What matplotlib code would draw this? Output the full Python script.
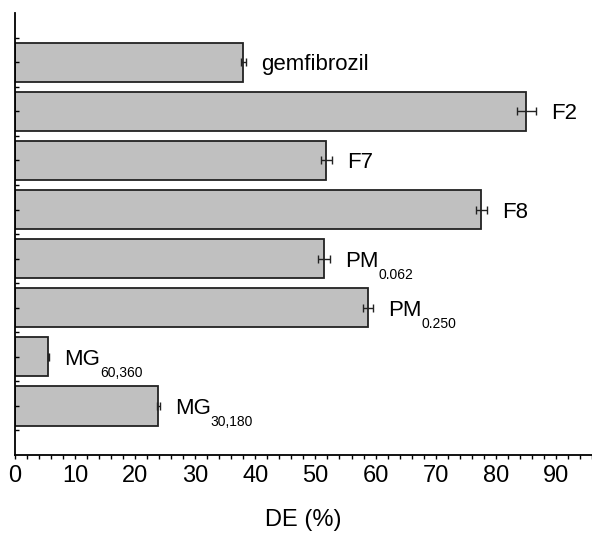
import matplotlib
matplotlib.use("Agg")
import matplotlib.pyplot as plt
import numpy as np
from matplotlib.ticker import MultipleLocator

plt.rcParams['font.family'] = ['Liberation Sans', 'DejaVu Sans']

# data
names = ['gemfibrozil', 'F2', 'F7', 'F8', 'PM', 'PM', 'MG', 'MG']
subs = ['', '', '', '', '0.062', '0.250', '60,360', '30,180']
de = [38.0, 85.1, 51.8, 77.6, 51.4, 58.7, 5.6, 23.9]
err = [0.4, 1.6, 0.9, 0.9, 1.0, 0.85, 0.1, 0.2]

fig = plt.figure(figsize=(5.92, 5.35), dpi=100)
ax = fig.add_axes([0.025, 0.1495, 0.975, 0.826])

y = np.arange(len(de))
ax.barh(y, de, height=0.8, color='#c0c0c0', edgecolor='#222222', linewidth=1.3)
ax.errorbar(de, y, xerr=err, fmt='none', ecolor='#222222', elinewidth=1,
            capsize=3, capthick=1)

for yi, v, e, name, sub in zip(y, de, err, names, subs):
    t = ax.annotate(name, (v + e, yi), xytext=(11, 0), textcoords='offset points',
                    va='center_baseline', ha='left', fontsize=16)
    if sub:
        # subscript drawn as its own smaller text, just below the baseline
        ax.annotate(sub, xy=(1, 0), xycoords=t, xytext=(0, 2.5),
                    textcoords='offset points', va='top', ha='left', fontsize=10)

ax.set_xlim(0, 96)
ax.set_ylim(len(de), -1)
ax.xaxis.set_major_locator(MultipleLocator(10))
ax.xaxis.set_minor_locator(MultipleLocator(2))
ax.set_xticks(np.arange(0, 91, 10))
ax.set_yticks(np.arange(-0.5, len(de), 0.5))
ax.set_yticklabels([])
ax.tick_params(axis='x', which='both', direction='out', length=3, width=1,
               labelsize=17, pad=4)
ax.tick_params(axis='y', direction='in', length=3, width=1)
ax.spines['top'].set_visible(False)
ax.spines['right'].set_visible(False)
ax.spines['left'].set_linewidth(1.3)
ax.spines['bottom'].set_linewidth(1.3)
ax.set_xlabel('DE (%)', fontsize=17, labelpad=16)

plt.savefig('out.png', dpi=100)
